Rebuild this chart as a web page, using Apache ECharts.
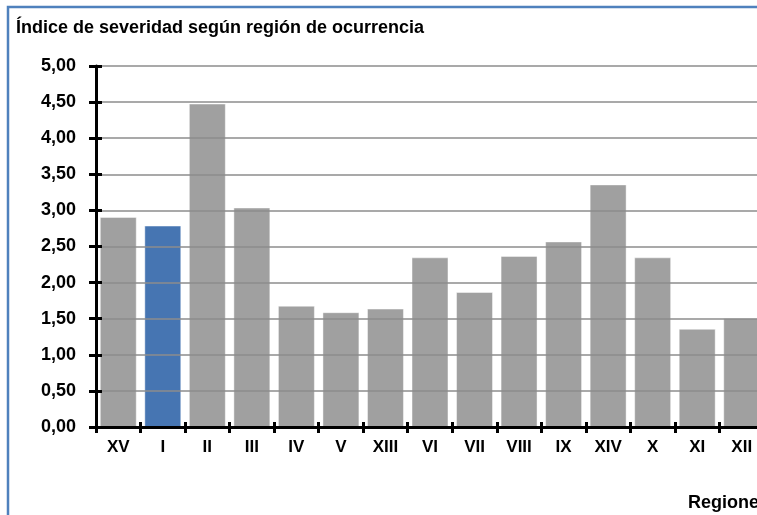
<!DOCTYPE html>
<html>
<head>
<meta charset="utf-8">
<script src="https://cdn.jsdelivr.net/npm/echarts@6/dist/echarts.min.js"></script>
<style>
  html, body { margin: 0; padding: 0; background: #fff; overflow: hidden; }
  #chart { width: 757px; height: 515px; }
</style>
</head>
<body>
<div id="chart"></div>
<script>
var regiones = ['XV', 'I', 'II', 'III', 'IV', 'V', 'XIII', 'VI', 'VII', 'VIII', 'IX', 'XIV', 'X', 'XI', 'XII']
var indice = [2.91, 2.79, 4.48, 3.04, 1.68, 1.59, 1.64, 2.35, 1.87, 2.37, 2.57, 3.36, 2.35, 1.36, 1.51]
var destacada = 'I'

var fuente = 'Liberation Sans'

var myChart = echarts.init(document.getElementById('chart'))

// barras: la región destacada va en azul
var barras = []
for (var i = 0; i < regiones.length; i++) {
    var item = { value: indice[i] }
    if (regiones[i] == destacada) {
        item.itemStyle = { color: '#4675b2' }
    }
    barras.push(item)
}

var etiquetaY = function (v) {
    return v.toFixed(2).replace('.', ',')
}

var option = {
    backgroundColor: '#fff',
    animation: false,
    title: {
        text: 'Índice de severidad según región de ocurrencia',
        left: 11,
        top: 14,
        textStyle: { fontFamily: fuente, fontSize: 18, fontWeight: 'bold', color: '#000' }
    },
    graphic: [
        {
            type: 'rect',
            shape: { x: 8, y: 7, width: 800, height: 600 },
            style: { fill: null, stroke: '#4f81bd', lineWidth: 2.5 },
            silent: true
        },
        {
            type: 'text',
            left: 688,
            top: 494,
            style: { text: 'Regiones', font: 'bold 18px "Liberation Sans"', fill: '#000' }
        }
    ],
    grid: { left: 96, top: 66, width: 668, height: 361, containLabel: false, outerBoundsMode: 'none' },
    xAxis: [
        {
            type: 'category',
            data: regiones,
            position: 'bottom',
            axisLine: { show: true, lineStyle: { color: '#000', width: 3 } },
            axisTick: { show: true, inside: false, length: 6, lineStyle: { color: '#000', width: 3 } },
            axisLabel: { margin: 12, fontFamily: fuente, fontSize: 17, fontWeight: 'bold', color: '#000' },
            splitLine: { show: false },
            z: 5
        },
        {
            type: 'category',
            data: regiones,
            position: 'bottom',
            axisLine: { show: false },
            axisTick: { show: true, inside: true, length: 5, lineStyle: { color: '#000', width: 3 } },
            axisLabel: { show: false },
            splitLine: { show: false },
            z: 5
        }
    ],
    yAxis: [
        {
            type: 'value',
            min: 0,
            max: 5,
            interval: 0.5,
            position: 'left',
            axisLine: { show: true, lineStyle: { color: '#000', width: 3 } },
            axisTick: { show: true, inside: false, length: 7, lineStyle: { color: '#000', width: 3 } },
            axisLabel: { margin: 20, formatter: etiquetaY, fontFamily: fuente, fontSize: 18, fontWeight: 'bold', color: '#000' },
            splitLine: { show: true, lineStyle: { color: '#8c8c8c', width: 1.5 } },
            z: 5
        },
        {
            type: 'value',
            min: 0,
            max: 5,
            interval: 0.5,
            position: 'left',
            axisLine: { show: false },
            axisTick: { show: true, inside: true, length: 6, lineStyle: { color: '#000', width: 3 } },
            axisLabel: { show: false },
            splitLine: { show: false },
            z: 5
        }
    ],
    series: [{
        type: 'bar',
        data: barras,
        xAxisIndex: 0,
        yAxisIndex: 0,
        barCategoryGap: '17%',
        itemStyle: { color: '#a0a0a0', borderColor: 'rgba(255,255,255,0.45)', borderWidth: 1 }
    }]
}

myChart.setOption(option)
</script>
</body>
</html>
